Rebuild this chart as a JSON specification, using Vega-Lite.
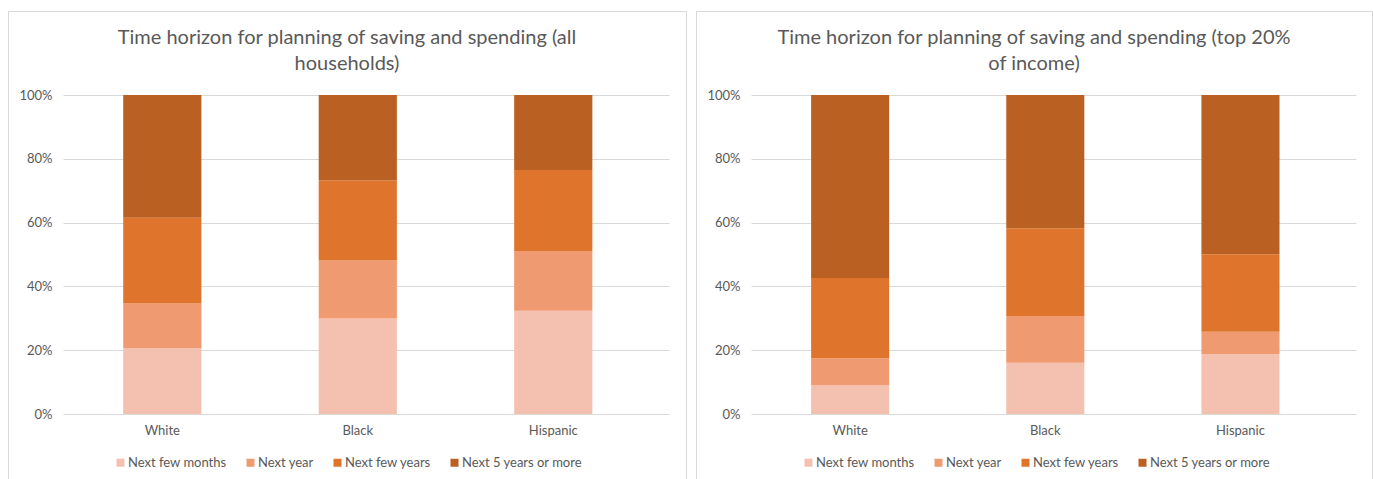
{
  "$schema": "https://vega.github.io/schema/vega-lite/v6.json",
  "padding": {"left": 7, "top": 10, "right": 0, "bottom": 0},
  "spacing": 8,
  "datasets": {
    "all": [
      {"group": "White", "horizon": "Next few months", "k": 1, "share": 20.7},
      {"group": "White", "horizon": "Next year", "k": 2, "share": 14.1},
      {"group": "White", "horizon": "Next few years", "k": 3, "share": 26.7},
      {"group": "White", "horizon": "Next 5 years or more", "k": 4, "share": 38.5},
      {"group": "Black", "horizon": "Next few months", "k": 1, "share": 29.9},
      {"group": "Black", "horizon": "Next year", "k": 2, "share": 18.2},
      {"group": "Black", "horizon": "Next few years", "k": 3, "share": 25.1},
      {"group": "Black", "horizon": "Next 5 years or more", "k": 4, "share": 26.8},
      {"group": "Hispanic", "horizon": "Next few months", "k": 1, "share": 32.4},
      {"group": "Hispanic", "horizon": "Next year", "k": 2, "share": 18.7},
      {"group": "Hispanic", "horizon": "Next few years", "k": 3, "share": 25.4},
      {"group": "Hispanic", "horizon": "Next 5 years or more", "k": 4, "share": 23.5}
    ],
    "top20": [
      {"group": "White", "horizon": "Next few months", "k": 1, "share": 9.1},
      {"group": "White", "horizon": "Next year", "k": 2, "share": 8.4},
      {"group": "White", "horizon": "Next few years", "k": 3, "share": 25.1},
      {"group": "White", "horizon": "Next 5 years or more", "k": 4, "share": 57.4},
      {"group": "Black", "horizon": "Next few months", "k": 1, "share": 16.1},
      {"group": "Black", "horizon": "Next year", "k": 2, "share": 14.6},
      {"group": "Black", "horizon": "Next few years", "k": 3, "share": 27.5},
      {"group": "Black", "horizon": "Next 5 years or more", "k": 4, "share": 41.8},
      {"group": "Hispanic", "horizon": "Next few months", "k": 1, "share": 18.7},
      {"group": "Hispanic", "horizon": "Next year", "k": 2, "share": 7.1},
      {"group": "Hispanic", "horizon": "Next few years", "k": 3, "share": 24.3},
      {"group": "Hispanic", "horizon": "Next 5 years or more", "k": 4, "share": 49.9}
    ]
  },
  "resolve": {
    "scale": {"x": "independent", "y": "independent", "color": "independent"},
    "legend": {"color": "independent"}
  },
  "hconcat": [
    {
      "width": 678,
      "height": 475,
      "data": {"name": "all"},
      "title": {"text": ["Time horizon for planning of saving and spending (all", "households)"], "offset": -63},
      "mark": {"type": "bar"},
      "encoding": {
        "x": {
          "field": "group", "type": "nominal", "sort": ["White", "Black", "Hispanic"],
          "scale": {"range": [55, 661], "paddingInner": 0.6, "paddingOuter": 0.35, "align": 0.44},
          "axis": {"title": null, "orient": "bottom", "offset": -72, "labelPadding": 10, "domain": false, "ticks": false, "labelAngle": 0}
        },
        "y": {
          "field": "share", "type": "quantitative", "stack": "zero",
          "scale": {"domain": [0, 100], "range": [403, 84], "nice": false},
          "axis": {"title": null, "orient": "left", "offset": -55, "labelPadding": 11, "domain": false, "ticks": false, "grid": true, "values": [0, 20, 40, 60, 80, 100], "labelExpr": "datum.value + '%'"}
        },
        "color": {
          "field": "horizon", "type": "nominal",
          "scale": {"domain": ["Next few months", "Next year", "Next few years", "Next 5 years or more"], "range": ["#F4C1B0", "#F09A72", "#DF742D", "#BA6023"]},
          "legend": {"orient": "none", "legendX": 106, "legendY": 445, "direction": "horizontal"}
        },
        "order": {"field": "k", "type": "quantitative"}
      }
    },
    {
      "width": 676,
      "height": 475,
      "data": {"name": "top20"},
      "title": {"text": ["Time horizon for planning of saving and spending (top 20%", "of income)"], "offset": -63},
      "mark": {"type": "bar"},
      "encoding": {
        "x": {
          "field": "group", "type": "nominal", "sort": ["White", "Black", "Hispanic"],
          "scale": {"range": [55, 660], "paddingInner": 0.6, "paddingOuter": 0.35, "align": 0.44},
          "axis": {"title": null, "orient": "bottom", "offset": -72, "labelPadding": 10, "domain": false, "ticks": false, "labelAngle": 0}
        },
        "y": {
          "field": "share", "type": "quantitative", "stack": "zero",
          "scale": {"domain": [0, 100], "range": [403, 84], "nice": false},
          "axis": {"title": null, "orient": "left", "offset": -55, "labelPadding": 11, "domain": false, "ticks": false, "grid": true, "values": [0, 20, 40, 60, 80, 100], "labelExpr": "datum.value + '%'"}
        },
        "color": {
          "field": "horizon", "type": "nominal",
          "scale": {"domain": ["Next few months", "Next year", "Next few years", "Next 5 years or more"], "range": ["#F4C1B0", "#F09A72", "#DF742D", "#BA6023"]},
          "legend": {"orient": "none", "legendX": 106, "legendY": 445, "direction": "horizontal"}
        },
        "order": {"field": "k", "type": "quantitative"}
      }
    }
  ],
  "config": {
    "font": "Lato",
    "background": "white",
    "view": {"stroke": "#D9D9D9", "strokeWidth": 1},
    "axis": {"labelFont": "Lato", "labelFontSize": 13, "labelColor": "#595959", "gridColor": "#D9D9D9", "gridWidth": 1},
    "title": {"font": "Lato", "fontSize": 20, "fontWeight": "normal", "color": "#595959", "lineHeight": 26, "anchor": "middle"},
    "legend": {"title": null, "symbolType": "square", "symbolSize": 64, "symbolStrokeWidth": 0, "labelFont": "Lato", "labelFontSize": 13, "labelColor": "#595959", "labelOffset": 1, "columnPadding": 17, "padding": 0}
  }
}
